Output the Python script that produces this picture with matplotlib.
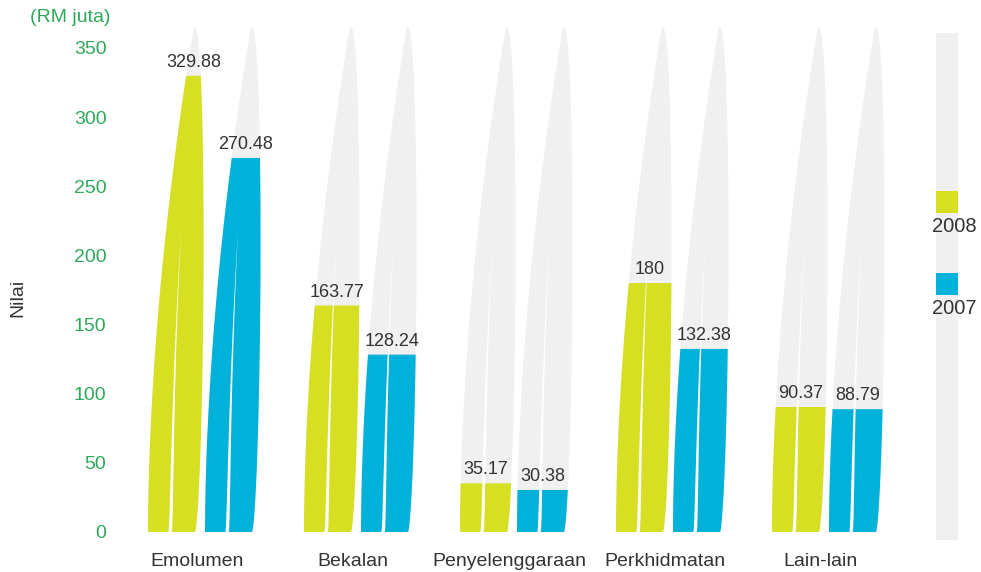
import matplotlib
matplotlib.use("Agg")
import matplotlib.pyplot as plt
import numpy as np
from matplotlib.patches import Polygon, Rectangle

plt.rcParams['font.family'] = ['Liberation Sans', 'DejaVu Sans']

categories = ["Emolumen", "Bekalan", "Penyelenggaraan", "Perkhidmatan", "Lain-lain"]
years = ["2008", "2007"]
val_2008 = [329.88, 163.77, 35.17, 180, 90.37]
val_2007 = [270.48, 128.24, 30.38, 132.38, 88.79]
labels_2008 = ["329.88", "163.77", "35.17", "180", "90.37"]
labels_2007 = ["270.48", "128.24", "30.38", "132.38", "88.79"]

c_2008 = '#d6df21'
c_2007 = '#00b1d9'
c_grey = '#f0f0f0'
c_green = '#2ea85a'
c_text = '#333333'

TIP = 366.0          # height of the spike tip
PX = 1.0 / 156       # one pixel in x units (category spacing = 156 px)
W = 47 * PX          # bottom width of one horn
BULGE = 17.9 * PX

fig = plt.figure(figsize=(9.81, 5.72), dpi=100)
ax = fig.add_axes([130 / 981, (572 - 545.8) / 572, 845 / 981, (545.8 - 13.4) / 572])
ax.set_xlim(-0.468, 4.949)
ax.set_ylim(-10, 375)


def edges(xl, t):
    left = xl + (W - PX) * t ** 1.8
    right = xl + W + BULGE * t ** 0.6 * (1 - t) ** 0.4 - PX * t
    return left, right


def horn(xl, top, color):
    t = np.linspace(0, top / TIP, 200)
    left, right = edges(xl, t)
    y = t * TIP
    pts = np.vstack([np.column_stack([left, y]), np.column_stack([right[::-1], y[::-1]])])
    ax.add_patch(Polygon(pts, closed=True, facecolor=color, edgecolor='none'))


def gap(xl):
    t = np.linspace(0, 0.6, 100)
    left, right = edges(xl, t)
    frac = 0.47 - 0.12 * t
    c = left + frac * (right - left)
    hw = 1.7 * PX * (1 - t / 0.6)
    y = t * TIP
    pts = np.vstack([np.column_stack([c - hw, y]), np.column_stack([(c + hw)[::-1], y[::-1]])])
    ax.add_patch(Polygon(pts, closed=True, facecolor='white', edgecolor='none'))


offsets = [-55 * PX, 2 * PX]
for i in range(len(categories)):
    for off, vals, labs, col in [(offsets[0], val_2008, labels_2008, c_2008),
                                 (offsets[1], val_2007, labels_2007, c_2007)]:
        xl = i + off
        horn(xl, TIP, c_grey)
        horn(xl, vals[i], col)
        gap(xl)
        l, r = edges(xl, vals[i] / TIP)
        ax.text((l + r) / 2, vals[i] + 3.5, labs[i], ha='center', va='bottom',
                fontsize=13, color=c_text)

ax.set_xticks(np.arange(len(categories)) - 6 * PX)
ax.set_xticklabels(categories, fontsize=14, color=c_text)
ax.set_yticks(np.arange(0, 351, 50))
ax.tick_params(axis='y', length=0, pad=17, labelsize=14, labelcolor=c_green)
ax.tick_params(axis='x', length=0, pad=5)
for s in ax.spines.values():
    s.set_visible(False)

fig.text(111 / 981, 1 - 18 / 572, "(RM juta)", ha='right', va='center',
         fontsize=14, color=c_green)
fig.text(18 / 981, 1 - 298 / 572, "Nilai", rotation=90, ha='center', va='center',
         fontsize=14, color=c_text)

# legend column
fig.patches.append(Rectangle((936 / 981, 1 - 540 / 572), 22 / 981, 507 / 572,
                             transform=fig.transFigure, facecolor=c_grey, edgecolor='none'))
for yr, col, ytop in [(years[0], c_2008, 191), (years[1], c_2007, 273)]:
    fig.patches.append(Rectangle((936 / 981, 1 - (ytop + 22) / 572), 22 / 981, 22 / 572,
                                 transform=fig.transFigure, facecolor=col, edgecolor='none'))
    fig.text(932 / 981, 1 - (ytop + 35) / 572, yr, ha='left', va='center',
             fontsize=14.5, color=c_text)

fig.savefig("out.png", dpi=100)
